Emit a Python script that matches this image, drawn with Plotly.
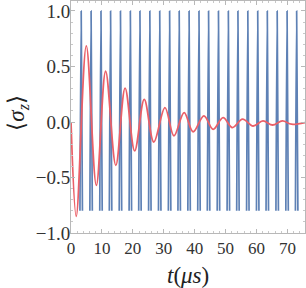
import plotly.graph_objects as go

# Blue oscillation: times of maxima (read), max / min values
blue_peak_t = [3.3, 6.5, 9.7, 12.8, 16.0, 19.2, 22.3, 25.5, 28.7, 31.9, 35.0, 38.2,
               41.4, 44.5, 47.7, 50.9, 54.0, 57.2, 60.4, 63.5, 66.7, 69.9, 73.0]
blue_max = 1.0
blue_min = -0.8
blue_half_width = 0.4

# Red damped oscillation: extrema (read)
red_t = [0.0, 1.7, 4.95, 8.2, 11.2, 14.5, 17.5, 20.6, 23.7, 26.8, 30.4, 33.3, 36.6,
         39.5, 43.0, 46.0, 49.2, 52.2, 55.5, 58.9, 62.1, 65.2, 68.4, 71.3, 75.7]
red_y = [0.0, -0.85, 0.685, -0.57, 0.457, -0.39, 0.306, -0.26, 0.203, -0.18, 0.13,
         -0.125, 0.085, -0.088, 0.055, -0.066, 0.04, -0.05, 0.025, -0.036, 0.01,
         -0.027, 0.01, -0.02, -0.005]

x_ticks = [0, 10, 20, 30, 40, 50, 60, 70]
y_ticks = [-1.0, -0.5, 0.0, 0.5, 1.0]

bx, by = [], []
for tp in blue_peak_t:
    bx += [tp - blue_half_width, tp, tp + blue_half_width, None]
    by += [blue_min, blue_max, blue_min, None]

fig = go.Figure()
fig.add_trace(go.Scatter(x=bx, y=by, mode="lines", connectgaps=False,
                         line=dict(color="#5E81B5", width=1.7, shape="spline", smoothing=0.8),
                         hoverinfo="skip"))
fig.add_trace(go.Scatter(x=red_t, y=red_y, mode="lines",
                         line=dict(color="rgb(234,96,104)", width=1.8, shape="spline", smoothing=1.0),
                         hoverinfo="skip"))

font_fam = "Liberation Serif"
axis_common = dict(showgrid=False, zeroline=False, showline=True, linecolor="#b8b8b8",
                   linewidth=1, mirror="allticks", ticks="inside", ticklen=4,
                   tickcolor="#b8b8b8", tickwidth=1, automargin=False)

fig.update_xaxes(range=[0, 75.7], tickvals=x_ticks, ticktext=[str(v) for v in x_ticks],
                 minor=dict(dtick=2, ticks="inside", ticklen=2, tickcolor="#c8c8c8", showgrid=False),
                 ticklabelstandoff=0,
                 tickfont=dict(family=font_fam, size=17, color="#333333"),
                 **axis_common)
fig.update_yaxes(range=[-1.0, 1.09], tickvals=y_ticks, ticktext=[f"{v:.1f}".replace("-", "−") for v in y_ticks],
                 minor=dict(dtick=0.1, ticks="inside", ticklen=2, tickcolor="#c8c8c8", showgrid=False),
                 ticklabelstandoff=-4,
                 tickfont=dict(family=font_fam, size=19, color="#333333"),
                 **axis_common)

fig.add_annotation(text="<i>t</i>(<i>μs</i>)", xref="paper", yref="paper", x=0.5, y=-0.185,
                   xanchor="center", yanchor="middle", showarrow=False,
                   font=dict(family=font_fam, size=23, color="#222"))
fig.add_annotation(text="⟨<i>σ</i><sub><i>z</i></sub>⟩", xref="paper", yref="paper", x=-0.225, y=0.52,
                   xanchor="center", yanchor="middle", showarrow=False, textangle=-90,
                   font=dict(family=font_fam, size=23, color="#222"))

fig.update_layout(width=306, height=288, margin=dict(l=71, r=1, t=1, b=55),
                  paper_bgcolor="white", plot_bgcolor="white", showlegend=False,
                  font=dict(family=font_fam))

fig.write_html("out.html", config={"displayModeBar": False},
               post_script="document.body.style.margin='0';")
